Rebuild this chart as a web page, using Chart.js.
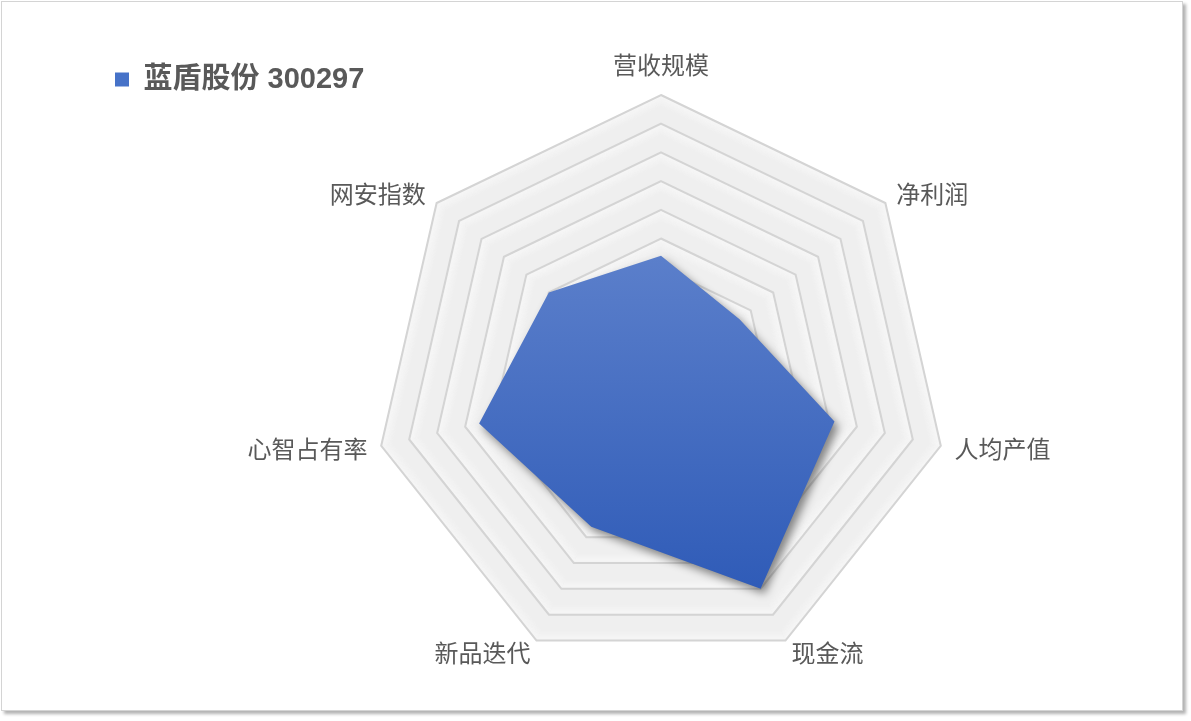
<!DOCTYPE html>
<html>
<head>
<meta charset="utf-8">
<script src="https://cdn.jsdelivr.net/npm/chart.js@4.4.0/dist/chart.umd.min.js"></script>
<style>
html, body { margin: 0; padding: 0; background: #fff; overflow: hidden; width: 1191px; height: 721px; }
#card { position: absolute; left: 1px; top: 1px; width: 1180px; height: 708px; border: 1px solid #d4d4d4; box-shadow: 3px 3px 3px rgba(0,0,0,0.3); background: #fff; }
#wrap { position: absolute; left: 0; top: 0; width: 1217px; height: 721px; }
</style>
</head>
<body>
<div id="card"></div>
<div id="wrap"><canvas id="chart"></canvas></div>
<script>
// data (scale 0..10, ten rings)
const categories = ['营收规模', '净利润', '人均产值', '现金流', '新品迭代', '心智占有率', '网安指数'];
const seriesName = '蓝盾股份 300297';
const scores = [4.4, 3.5, 6.2, 8.0, 5.6, 6.5, 5.0];
const ringValues = [0, 1, 2, 3, 4, 5, 6, 7, 8, 9, 10];

// polygon through every axis at a given distance
function ringPath(ctx, scale, dist) {
    ctx.beginPath();
    for (let i = 0; i < categories.length; i++) {
        const p = scale.getPointPosition(i, dist);
        if (i === 0) ctx.moveTo(p.x, p.y); else ctx.lineTo(p.x, p.y);
    }
    ctx.closePath();
}

const radarLook = {
    id: 'radarLook',
    beforeDatasetsDraw(chart) {
        const scale = chart.scales.r;
        const ctx = chart.ctx;
        // light bevel band inside each ring
        ctx.save();
        ctx.lineWidth = 1;
        ringValues.slice(1).forEach(v => {
            const r = scale.getDistanceFromCenterForValue(v);
            for (let k = 2; k <= 11; k++) {
                ctx.strokeStyle = 'rgba(255,255,255,' + (0.45 * (12 - k) / 10).toFixed(3) + ')';
                ringPath(ctx, scale, r - k);
                ctx.stroke();
            }
        });
        ctx.restore();
        // drop shadow for the filled area
        ctx.save();
        ctx.shadowColor = 'rgba(0,0,0,0.45)';
        ctx.shadowBlur = 9;
        ctx.shadowOffsetX = 4;
        ctx.shadowOffsetY = 5;
    },
    afterDatasetsDraw(chart) {
        const ctx = chart.ctx;
        ctx.restore();
        // axis names
        const scale = chart.scales.r;
        ctx.save();
        ctx.font = '24px "Noto Sans CJK SC", sans-serif';
        ctx.fillStyle = '#595959';
        ctx.textBaseline = 'middle';
        chart.data.labels.forEach((name, i) => {
            const p = scale.getPointPosition(i, scale.drawingArea + 14);
            const dx = p.x - scale.xCenter;
            let y = p.y;
            if (Math.abs(dx) < 1) {
                ctx.textAlign = 'center';
                y += p.y < scale.yCenter ? -16 : 16;
            } else {
                ctx.textAlign = dx > 0 ? 'left' : 'right';
            }
            ctx.fillText(name, p.x, y);
        });
        ctx.restore();
    }
};

const ctx = document.getElementById('chart').getContext('2d');
const mychart = new Chart(ctx, {
    type: 'radar',
    data: {
        labels: categories,
        datasets: [{
            label: seriesName,
            data: scores,
            backgroundColor: function (context) {
                const area = context.chart.chartArea;
                if (!area) return '#3f6cc4';
                const g = context.chart.ctx.createLinearGradient(0, area.top, 0, area.bottom);
                g.addColorStop(0, '#7090d4');
                g.addColorStop(1, '#2553b3');
                return g;
            },
            borderWidth: 0,
            pointRadius: 0,
            fill: true
        }]
    },
    options: {
        responsive: true,
        maintainAspectRatio: false,
        animation: false,
        layout: { padding: { left: 105, right: 0, top: 55, bottom: 52 } },
        plugins: {
            tooltip: { enabled: false },
            legend: {
                position: 'top',
                align: 'start',
                maxHeight: 40,
                labels: {
                    boxWidth: 14,
                    boxHeight: 14,
                    padding: 10,
                    color: '#595959',
                    font: { family: '"Liberation Sans", "Noto Sans CJK SC", sans-serif', size: 29, weight: 'bold' },
                    generateLabels: chart => chart.data.datasets.map((ds, i) => ({
                        text: ds.label,
                        fillStyle: '#4672c8',
                        strokeStyle: '#4672c8',
                        lineWidth: 0,
                        hidden: false,
                        datasetIndex: i,
                        fontColor: '#595959'
                    }))
                }
            }
        },
        scales: {
            r: {
                min: ringValues[0],
                max: ringValues[ringValues.length - 1],
                backgroundColor: '#efefef',
                ticks: { display: false, stepSize: 1 },
                angleLines: { display: false },
                grid: { color: '#d4d4d4', lineWidth: 2 },
                pointLabels: { display: false }
            }
        }
    },
    plugins: [radarLook]
});
</script>
</body>
</html>
